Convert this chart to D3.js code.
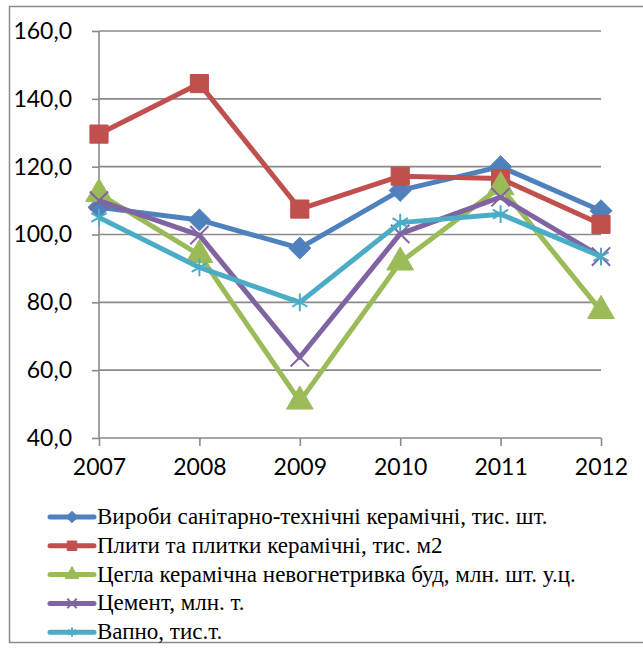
<!DOCTYPE html>
<html lang="uk">
<head>
  <meta charset="utf-8">
  <title>Chart</title>
  <script src="https://d3js.org/d3.v7.min.js"></script>
  <style>
    body { margin: 0; background: #fff; }
    .tick text { font-family: Lato, "Open Sans", sans-serif; font-size: 23px; fill: #000; }
  </style>
</head>
<body>
<script>
// years and series values (indices)
var years = ["2007", "2008", "2009", "2010", "2011", "2012"];
var yTicks = [40, 60, 80, 100, 120, 140, 160];

var sanitary = [108.0, 104.3, 96.0, 113.0, 120.0, 107.0];
var tiles    = [129.6, 144.5, 107.5, 117.2, 116.5, 103.0];
var bricks   = [112.0, 94.0, 50.8, 91.8, 114.0, 77.5];
var cement   = [110.0, 99.8, 63.8, 100.2, 111.0, 93.5];
var lime     = [105.0, 90.3, 80.0, 103.5, 106.0, 93.5];

var names = [
  "Вироби санітарно-технічні керамічні, тис. шт.",
  "Плити та плитки керамічні, тис. м2",
  "Цегла керамічна невогнетривка буд, млн. шт. у.ц.",
  "Цемент, млн. т.",
  "Вапно, тис.т."
];
var colors = ["#4F81BD", "#C0504D", "#9BBB59", "#8064A2", "#4BACC6"];
var shapes = ["diamond", "square", "triangle", "x", "star"];

var series = [sanitary, tiles, bricks, cement, lime].map(function(v, i) {
  return { name: names[i], values: v, color: colors[i], shape: shapes[i] };
});

var W = 643, H = 648;
var svg = d3.select("body").append("svg")
  .attr("width", W).attr("height", H);

// outer frame
svg.append("rect")
  .attr("x", 9.5).attr("y", 6.5)
  .attr("width", 640).attr("height", 636)
  .attr("fill", "#fff")
  .attr("stroke", "#8c8c8c").attr("stroke-width", 1.5);

var x = d3.scalePoint().domain(years).range([99, 601]);
var y = d3.scaleLinear().domain([40, 160]).range([438, 31]);

// horizontal grid
svg.append("g").selectAll("line")
  .data(yTicks.slice(1))
  .enter().append("line")
  .attr("x1", 99).attr("x2", 601)
  .attr("y1", function(d) { return y(d); })
  .attr("y2", function(d) { return y(d); })
  .attr("stroke", "#8a8a8a").attr("stroke-width", 1.6);

// y axis
var yAxis = d3.axisLeft(y).tickValues(yTicks).tickSize(7).tickPadding(20)
  .tickFormat(function(d) { return d3.format(".1f")(d).replace(".", ","); });
var gy = svg.append("g").attr("transform", "translate(99,0)").call(yAxis);
gy.selectAll("path, line").attr("stroke", "#8a8a8a").attr("stroke-width", 1.6);
gy.select(".domain").attr("d", "M0," + y(40) + "V" + y(160));

// x axis
var xAxis = d3.axisBottom(x).tickSize(8).tickPadding(13);
var gx = svg.append("g").attr("transform", "translate(0," + y(40) + ")").call(xAxis);
gx.selectAll("path, line").attr("stroke", "#8a8a8a").attr("stroke-width", 1.6);
gx.select(".domain").attr("d", "M99,0H601");

var line = d3.line()
  .x(function(d, i) { return x(years[i]); })
  .y(function(d) { return y(d); });

function symbolFor(shape, size) {
  if (shape === "diamond") return d3.symbol().type(d3.symbolDiamond2).size(size * 1.4)();
  if (shape === "square") return d3.symbol().type(d3.symbolSquare).size(size * 1.5)();
  if (shape === "triangle") return d3.symbol().type(d3.symbolTriangle).size(size * 1.4)();
  if (shape === "x") return d3.symbol().type(d3.symbolTimes).size(size)();
  return d3.symbol().type(d3.symbolAsterisk).size(size)();
}

function drawMarker(g, s, cx, cy, size) {
  var open = s.shape === "x" || s.shape === "star";
  var p = g.append("path")
    .attr("d", symbolFor(s.shape, size))
    .attr("transform", "translate(" + cx + "," + cy + ")");
  if (open) {
    p.attr("fill", "none").attr("stroke", s.color).attr("stroke-width", 2);
  } else {
    p.attr("fill", s.color).attr("stroke", s.color).attr("stroke-width", 1);
  }
}

var lines = svg.append("g");
series.forEach(function(s) {
  var g = lines.append("g");
  g.append("path")
    .attr("d", line(s.values))
    .attr("fill", "none")
    .attr("stroke", s.color)
    .attr("stroke-width", 5)
    .attr("stroke-linejoin", "round");
  s.values.forEach(function(v, i) {
    drawMarker(g, s, x(years[i]), y(v), 220);
  });
});

// legend
var legend = svg.append("g");
series.forEach(function(s, i) {
  var ly = 517 + i * 28.8;
  var g = legend.append("g");
  g.append("line")
    .attr("x1", 50).attr("x2", 94)
    .attr("y1", ly).attr("y2", ly)
    .attr("stroke", s.color).attr("stroke-width", 5)
    .attr("stroke-linecap", "round");
  drawMarker(g, s, 72, ly, 60);
  g.append("text")
    .attr("x", 97).attr("y", ly + 7)
    .attr("font-family", "'Liberation Serif', serif")
    .attr("font-size", 23)
    .attr("fill", "#000")
    .text(s.name);
});
</script>
</body>
</html>
